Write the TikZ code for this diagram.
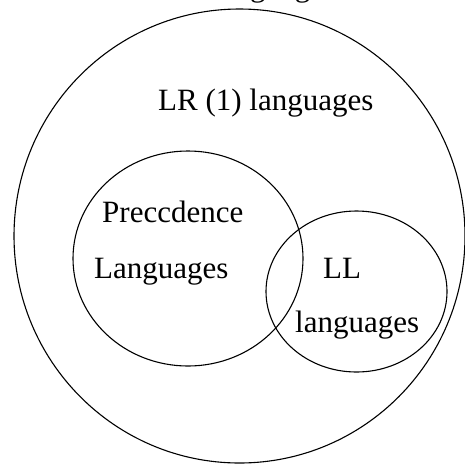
\documentclass[tikz,border=0pt]{standalone}
\usepackage{fontspec}
\setmainfont{Liberation Serif}
\usetikzlibrary{shapes.geometric}
\begin{document}
\begin{tikzpicture}[x=1pt,y=-1pt,
  setshape/.style={draw=black, line width=1.1pt, ellipse, inner sep=0pt},
  lbl/.style={anchor=base west, inner sep=0pt, font=\fontsize{31}{31}\selectfont}]
\useasboundingbox (0,0) rectangle (465,464);
\clip (0,0) rectangle (465,464);
\fill[white] (0,0) rectangle (465,464);
% outer set
\node[setshape, minimum width=451pt, minimum height=454pt] (lr) at (239.5,236) {};
% precedence set
\node[setshape, minimum width=230pt, minimum height=215pt] (prec) at (188,258.5) {};
% LL set
\node[setshape, minimum width=181pt, minimum height=161pt] (ll) at (356.5,291.5) {};
% labels
\node[lbl] (top) at (212,-4) {languages};
\node[lbl] (lrt) at (158,110) {LR (1) languages};
\node[lbl] (p1) at (102,222) {Preccdence};
\node[lbl] (p2) at (94,278) {Languages};
\node[lbl] (l1) at (323,278) {LL};
\node[lbl] (l2) at (295,332) {languages};
\end{tikzpicture}
\end{document}
